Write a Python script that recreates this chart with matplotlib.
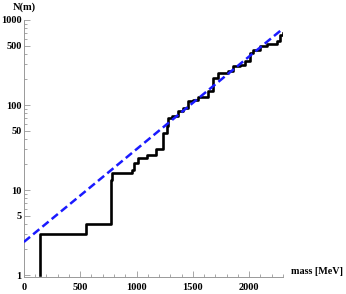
import numpy as np
import matplotlib
matplotlib.use("Agg")
import matplotlib.pyplot as plt
from matplotlib.ticker import FixedLocator, MultipleLocator, NullFormatter

# cumulative hadron count (steps-post)
mass = [142, 142, 550, 775, 782, 958, 975, 1015, 1090, 1170, 1237, 1267, 1280,
        1311, 1370, 1413, 1458, 1504, 1549, 1637, 1682, 1726, 1815, 1860, 1918,
        1963, 2007, 2036, 2096, 2155, 2244, 2273, 2300]
count = [1, 3, 4, 13, 16, 17, 21, 24, 26, 30, 47, 57, 71,
         74, 85, 93, 111, 116, 124, 146, 208, 239, 250, 287, 298,
         325, 410, 448, 500, 520, 560, 670, 700]

# exponential fit  N = A exp(m / T)
fit_A = 2.45
fit_T = 398.0

xticks = [0, 500, 1000, 1500, 2000]
yticks = [1, 5, 10, 50, 100, 500, 1000]

plt.rcParams['font.family'] = ['Liberation Serif', 'DejaVu Serif']
plt.rcParams['font.weight'] = 'bold'

fig = plt.figure(figsize=(3.46, 2.94), dpi=100)
ax = fig.add_axes([0.069, 0.058, 0.749, 0.874])

m_fit = np.linspace(0, 2300, 200)
ax.plot(m_fit, fit_A * np.exp(m_fit / fit_T), color='#1a1aff', lw=1.8,
        dashes=(3.2, 1.6), zorder=3)
ax.plot(mass, count, drawstyle='steps-post', color='black', lw=1.9, zorder=2)

ax.set_yscale('log')
ax.set_xlim(0, 2300)
ax.set_ylim(0.95, 1000)

for s in ['top', 'right']:
    ax.spines[s].set_visible(False)
for s in ['left', 'bottom']:
    ax.spines[s].set_color('#999999')
    ax.spines[s].set_linewidth(0.7)

ax.xaxis.set_major_locator(FixedLocator(xticks))
ax.xaxis.set_minor_locator(MultipleLocator(100))
ax.set_xticklabels([str(t) for t in xticks])
ax.yaxis.set_major_locator(FixedLocator(yticks))
minor_y = [v * d for d in [1, 10, 100] for v in [2, 3, 4, 6, 7, 8, 9]]
ax.yaxis.set_minor_locator(FixedLocator(minor_y))
ax.yaxis.set_minor_formatter(NullFormatter())
ax.set_yticklabels([str(t) for t in yticks])

ax.tick_params(which='both', direction='in', color='#999999', width=0.6,
               labelsize=7.5)
ax.tick_params(axis='x', pad=4)
ax.tick_params(axis='y', pad=1.5)
ax.tick_params(which='major', length=4)
ax.tick_params(which='minor', length=2)

ax.text(1.03, 0.02, 'mass [MeV]', transform=ax.transAxes, fontsize=7.3,
        fontweight='bold', ha='left', va='center')
ax.text(0.0, 1.05, 'N(m)', transform=ax.transAxes, fontsize=7.5,
        fontweight='bold', ha='center', va='center')

fig.savefig('out.png', dpi=100)
